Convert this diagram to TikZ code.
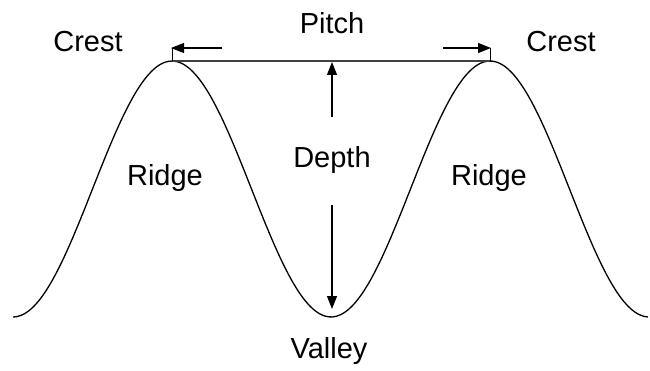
\documentclass[tikz,border=0pt]{standalone}
\usepackage{fontspec}
\setmainfont{Liberation Sans}
\usetikzlibrary{arrows.meta}
\tikzset{lbl/.style={font=\fontsize{29}{34}\selectfont, inner sep=0pt}, dimarrow/.style={-{Triangle[length=13pt,width=10pt]}, line width=1.1pt}}
\begin{document}
\begin{tikzpicture}[x=1pt, y=-1pt]
\useasboundingbox (0,0) rectangle (650,371);
\coordinate (crestL) at (172,61); \coordinate (crestR) at (490,61); \coordinate (valley) at (331,317);
\draw[line width=1.3pt, line join=round] plot[domain=13:648, samples=160, smooth] (\x, {189-128*cos((\x-172)*1.13208)});
\draw[line width=1.4pt, black!75] (crestL) -- (crestR);
\node[lbl] (pitch) at (332,23) {Pitch};
\node[lbl] (crestLtxt) at (88,42) {Crest}; \node[lbl] (crestRtxt) at (561,42) {Crest};
\node[lbl] (ridgeL) at (165,178) {Ridge}; \node[lbl] (ridgeR) at (489,178) {Ridge};
\node[lbl] (depth) at (332,160) {Depth}; \node[lbl] (valleytxt) at (329,351) {Valley};
\coordinate (pitchLtail) at (222,48); \coordinate (pitchLtip) at (171,48); \coordinate (pitchRtail) at (443,48); \coordinate (pitchRtip) at (491,48);
\draw[dimarrow] (pitchLtail) -- (pitchLtip); \draw[dimarrow] (pitchRtail) -- (pitchRtip);
\draw[line width=0.8pt] (crestL) -- (pitchLtip -| crestL); \draw[line width=0.8pt] (crestR) -- (pitchRtip -| crestR);
\coordinate (depthUp) at (332,117); \coordinate (depthTop) at (332,62); \coordinate (depthDown) at (332,205); \coordinate (depthBot) at (332,309);
\draw[dimarrow] (depthUp) -- (depthTop); \draw[dimarrow] (depthDown) -- (depthBot);
\end{tikzpicture}
\end{document}
